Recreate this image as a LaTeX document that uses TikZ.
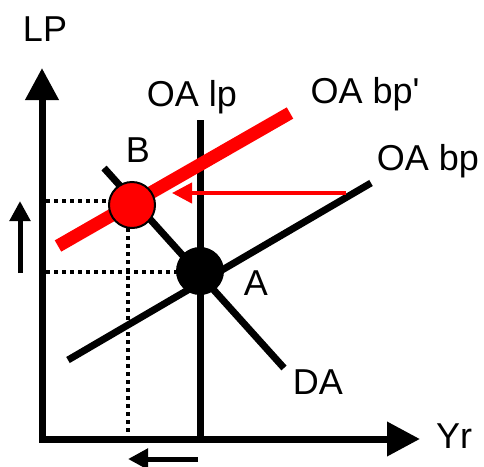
\documentclass[tikz,border=0pt]{standalone}
\usepackage{fontspec}
\setmainfont{Liberation Sans}[Ligatures=TeXOff]
\usetikzlibrary{arrows.meta, positioning}

\begin{document}
\begin{tikzpicture}[
    x=1pt, y=-1pt,
    lbl/.style={font=\fontsize{36}{40}\selectfont, inner sep=0pt, anchor=base},
    axisarr/.style={line width=7pt, line join=miter,
                    {Triangle[length=32pt, width=32pt]}-{Triangle[length=33pt, width=33pt]}},
    sched/.style={line width=7pt},
    shiftline/.style={red, line width=13pt},
    guide/.style={line width=3.5pt, dash pattern=on 4pt off 4pt},
    movearr/.style={line width=5pt, -{Triangle[length=20pt, width=20pt]}},
    eqpt/.style={circle, draw=black, line width=2pt, minimum size=46pt, inner sep=0pt},
]
\useasboundingbox (0,0) rectangle (484,466);

% axes
\coordinate (O) at (42,439);
\coordinate (ytop) at (42,68);
\coordinate (xend) at (420,439);
\draw[axisarr] (ytop) -- (O) -- (xend);
\node[lbl] (lp) at (45,41) {LP};
\node[lbl] (yr) at (454,448) {Yr};

% equilibrium points
\coordinate (Bc) at (132,205);
\coordinate (Ac) at (200,271);

% dotted guides
\coordinate (gb1) at (46,201);
\coordinate (gb2) at (110,201);
\coordinate (gb3) at (128,228);
\coordinate (gb4) at (128,435);
\coordinate (ga1) at (46,272);
\coordinate (ga2) at (178,272);
\draw[guide] (gb1) -- (gb2);
\draw[guide] (gb3) -- (gb4);
\draw[guide] (ga1) -- (ga2);

% schedules
\coordinate (lp1) at (200,120);
\coordinate (lp2) at (200,439);
\draw[sched] (lp1) -- (lp2);
\node[lbl] (oalp) at (192,106) {OA lp};

\coordinate (bp1) at (68,360);
\coordinate (bp2) at (371,183);
\draw[sched] (bp1) -- (bp2);
\node[lbl] (oabp) at (428,170) {OA bp};

\coordinate (da1) at (104,168);
\coordinate (da2) at (284,368);
\draw[sched] (da1) -- (da2);
\node[lbl] (dal) at (318,394) {DA};

\coordinate (bq1) at (58,246);
\coordinate (bq2) at (290,113);
\draw[shiftline] (bq1) -- (bq2);
\node[lbl] (oabpq) at (365,103) {OA bp'};

% shift arrow
\coordinate (sh1) at (346,193);
\coordinate (sh2) at (172,193);
\draw[movearr, red, line width=4pt] (sh1) -- (sh2);

\node[eqpt, fill=red] (B) at (Bc) {};
\node[eqpt, fill=black] (A) at (Ac) {};
\node[lbl] (bl) at (138,162) {B};
\node[lbl] (al) at (256,295) {A};

% changes
\coordinate (up1) at (20,273);
\coordinate (up2) at (20,201);
\draw[movearr] (up1) -- (up2);
\coordinate (lf1) at (198,459);
\coordinate (lf2) at (128,459);
\draw[movearr] (lf1) -- (lf2);
\end{tikzpicture}
\end{document}
